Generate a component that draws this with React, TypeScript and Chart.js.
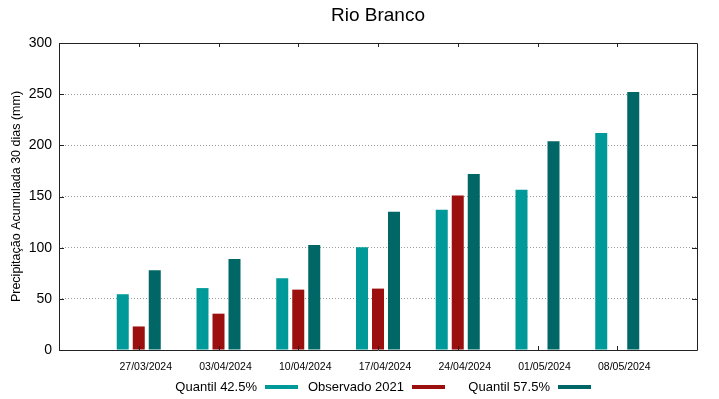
import React, { useEffect, useRef } from "react";
import { Chart, registerables } from "chart.js";

Chart.register(...registerables);

const title = "Rio Branco";
const yAxisTitle = "Precipitação Acumulada 30 dias (mm)";
const dates = ["27/03/2024", "03/04/2024", "10/04/2024", "17/04/2024", "24/04/2024", "01/05/2024", "08/05/2024"];
const quantil425 = [54.5, 60.5, 70, 100.5, 137, 156.5, 212];
const observado2021 = [23, 35.5, 59, 60, 151, null, null];
const quantil575 = [78, 89, 102.5, 135, 172, 204, 252];
const seriesNames = ["Quantil 42.5%", "Observado 2021", "Quantil 57.5%"];
const seriesColors = ["#009999", "#9b0f0f", "#006666"];
const yTicks = [0, 50, 100, 150, 200, 250, 300];

const FONT = "'Liberation Sans', Arial, sans-serif";

const toPoints = (arr: (number | null)[]) => arr.map((v, i) => ({ x: i, y: v }));

const framePlugin = {
  id: "frame",
  afterDatasetsDraw(chart: any) {
    const { ctx, chartArea } = chart;
    const { left, right, top, bottom } = chartArea;
    const xs = chart.scales.x;
    const ys = chart.scales.y;
    ctx.save();
    ctx.strokeStyle = "#222";
    ctx.lineWidth = 1;
    ctx.beginPath();
    ctx.rect(Math.round(left) + 0.5, Math.round(top) + 0.5, Math.round(right - left), Math.round(bottom - top));
    ctx.stroke();
    // y ticks (inside, mirrored)
    ctx.beginPath();
    yTicks.forEach((v) => {
      const py = Math.round(ys.getPixelForValue(v)) + 0.5;
      ctx.moveTo(left, py);
      ctx.lineTo(left + 5, py);
      ctx.moveTo(right, py);
      ctx.lineTo(right - 5, py);
    });
    // x ticks (inside, mirrored)
    dates.forEach((_, i) => {
      const px = Math.round(xs.getPixelForValue(i)) + 0.5;
      ctx.moveTo(px, bottom);
      ctx.lineTo(px, bottom - 4);
      ctx.moveTo(px, top);
      ctx.lineTo(px, top + 4);
    });
    ctx.stroke();
    ctx.restore();
  },
  afterDraw(chart: any) {
    const { ctx, chartArea } = chart;
    ctx.save();
    ctx.fillStyle = "#000";
    ctx.font = `19px ${FONT}`;
    ctx.textAlign = "center";
    ctx.textBaseline = "middle";
    ctx.fillText(title, (chartArea.left + chartArea.right) / 2, 16);
    // legend
    ctx.font = `13px ${FONT}`;
    ctx.textAlign = "right";
    const swatchStarts = [265, 412, 558];
    const ly = 387;
    seriesNames.forEach((name, i) => {
      const sx = swatchStarts[i];
      ctx.fillStyle = "#000";
      ctx.fillText(name, sx - 8, ly);
      ctx.fillStyle = seriesColors[i];
      ctx.fillRect(sx, ly - 2, 33, 4);
    });
    ctx.restore();
  },
};

export default function App() {
  const ref = useRef<HTMLCanvasElement | null>(null);
  useEffect(() => {
    if (!ref.current) return;
    const datasets = [quantil425, observado2021, quantil575].map((arr, i) => ({
      label: seriesNames[i],
      data: toPoints(arr),
      backgroundColor: seriesColors[i],
      borderWidth: 0,
      categoryPercentage: 0.602,
      barPercentage: 0.75,
    }));
    const chart = new Chart(ref.current, {
      type: "bar",
      data: { datasets },
      plugins: [framePlugin],
      options: {
        animation: false,
        responsive: false,
        devicePixelRatio: 1,
        layout: { padding: { top: 43, right: 22, left: 0, bottom: 0 } },
        plugins: {
          legend: { display: false },
          title: { display: false },
          tooltip: { enabled: false },
        },
        scales: {
          x: {
            type: "linear",
            min: -1,
            max: 7,
            offset: false,
            grid: { display: false, drawTicks: false, offset: false },
            border: { display: false },
            ticks: {
              stepSize: 1,
              autoSkip: false,
              maxRotation: 0,
              labelOffset: 7,
              padding: 11,
              color: "#000",
              font: { family: FONT, size: 10.5 },
              callback: (v: any) => (dates[v as number] !== undefined ? dates[v as number] : ""),
            },
            afterFit: (s: any) => {
              s.height = 49;
            },
          },
          y: {
            min: 0,
            max: 300,
            grid: { color: "#9a9a9a", drawTicks: false, lineWidth: 1 },
            border: { display: false, dash: [1, 2] },
            ticks: {
              stepSize: 50,
              padding: 7,
              color: "#000",
              font: { family: FONT, size: 14 },
            },
            title: {
              display: true,
              text: yAxisTitle,
              color: "#000",
              font: { family: FONT, size: 12.5 },
              padding: { top: 9, bottom: 0 },
            },
            afterFit: (s: any) => {
              s.width = 59;
            },
          },
        },
      },
    });
    return () => chart.destroy();
  }, []);
  return (
    <div style={{ position: "fixed", left: 0, top: 0, width: 719, height: 399, background: "#fff" }}>
      <canvas ref={ref} width={719} height={399} style={{ width: 719, height: 399, display: "block" }} />
    </div>
  );
}
